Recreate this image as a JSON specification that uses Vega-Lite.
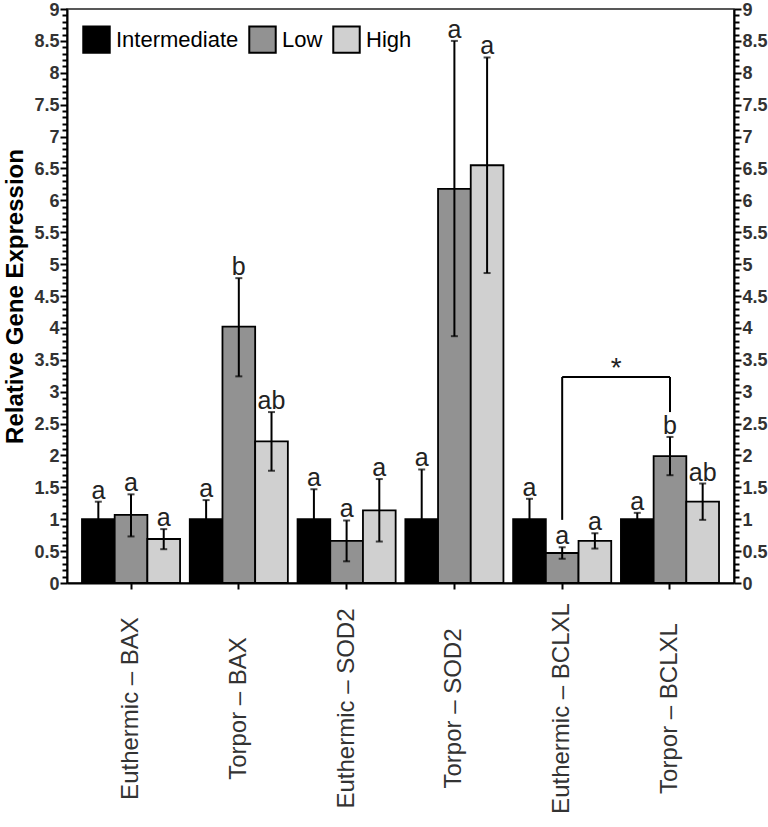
{
  "$schema": "https://vega.github.io/schema/vega-lite/v6.json",
  "width": 667,
  "height": 574,
  "autosize": "none",
  "padding": {"left": 67, "top": 9, "right": 34, "bottom": 244},
  "background": "white",
  "config": {
    "font": "Liberation Sans",
    "view": {"stroke": "#222", "strokeWidth": 1.5},
    "axis": {"domainColor": "black", "domainWidth": 2, "tickColor": "black", "tickWidth": 2, "grid": false}
  },
  "datasets": {
    "bars": [
      {"group": "Euthermic – BAX", "series": "Intermediate", "value": 1.0, "lo": 0.725, "hi": 1.275, "letter": "a"},
      {"group": "Euthermic – BAX", "series": "Low", "value": 1.067, "lo": 0.73, "hi": 1.39, "letter": "a"},
      {"group": "Euthermic – BAX", "series": "High", "value": 0.69, "lo": 0.53, "hi": 0.845, "letter": "a"},
      {"group": "Torpor – BAX", "series": "Intermediate", "value": 1.0, "lo": 0.7, "hi": 1.3, "letter": "a"},
      {"group": "Torpor – BAX", "series": "Low", "value": 4.02, "lo": 3.24, "hi": 4.78, "letter": "b"},
      {"group": "Torpor – BAX", "series": "High", "value": 2.22, "lo": 1.76, "hi": 2.68, "letter": "ab"},
      {"group": "Euthermic – SOD2", "series": "Intermediate", "value": 1.0, "lo": 0.53, "hi": 1.47, "letter": "a"},
      {"group": "Euthermic – SOD2", "series": "Low", "value": 0.66, "lo": 0.34, "hi": 0.98, "letter": "a"},
      {"group": "Euthermic – SOD2", "series": "High", "value": 1.14, "lo": 0.65, "hi": 1.63, "letter": "a"},
      {"group": "Torpor – SOD2", "series": "Intermediate", "value": 1.0, "lo": 0.22, "hi": 1.78, "letter": "a"},
      {"group": "Torpor – SOD2", "series": "Low", "value": 6.18, "lo": 3.87, "hi": 8.5, "letter": "a"},
      {"group": "Torpor – SOD2", "series": "High", "value": 6.55, "lo": 4.86, "hi": 8.24, "letter": "a"},
      {"group": "Euthermic – BCLXL", "series": "Intermediate", "value": 1.0, "lo": 0.68, "hi": 1.32, "letter": "a"},
      {"group": "Euthermic – BCLXL", "series": "Low", "value": 0.47, "lo": 0.38, "hi": 0.56, "letter": "a"},
      {"group": "Euthermic – BCLXL", "series": "High", "value": 0.66, "lo": 0.54, "hi": 0.78, "letter": "a"},
      {"group": "Torpor – BCLXL", "series": "Intermediate", "value": 1.0, "lo": 0.9, "hi": 1.1, "letter": "a"},
      {"group": "Torpor – BCLXL", "series": "Low", "value": 1.99, "lo": 1.69, "hi": 2.29, "letter": "b"},
      {"group": "Torpor – BCLXL", "series": "High", "value": 1.275, "lo": 0.99, "hi": 1.56, "letter": "ab"}
    ],
    "bracket": [
      {"group": "Euthermic – BCLXL", "group2": "Torpor – BCLXL", "y": 3.23, "y2": 3.23},
      {"group": "Euthermic – BCLXL", "group2": "Euthermic – BCLXL", "y": 0.99, "y2": 3.23},
      {"group": "Torpor – BCLXL", "group2": "Torpor – BCLXL", "y": 2.68, "y2": 3.23}
    ],
    "star": [
      {"group": "Euthermic – BCLXL", "y": 3.23, "label": "*"}
    ]
  },
  "encoding": {
    "x": {
      "field": "group",
      "type": "nominal",
      "title": null,
      "scale": {
        "domain": ["Euthermic – BAX", "Torpor – BAX", "Euthermic – SOD2", "Torpor – SOD2", "Euthermic – BCLXL", "Torpor – BCLXL"],
        "paddingInner": 0.09,
        "paddingOuter": 0.139
      },
      "axis": {
        "labelAngle": -90,
        "labelAlign": "center",
        "labelBaseline": "middle",
        "labelPadding": 119,
        "labelFontSize": 24,
        "labelColor": "#333",
        "labelLimit": 400,
        "tickSize": 6
      }
    }
  },
  "layer": [
    {
      "data": {"name": "bars"},
      "mark": {"type": "bar", "stroke": "black", "strokeWidth": 1.8},
      "encoding": {
        "xOffset": {"field": "series", "type": "nominal", "scale": {"domain": ["Intermediate", "Low", "High"], "paddingInner": 0}},
        "y": {
          "field": "value",
          "type": "quantitative",
          "scale": {"domain": [0, 9], "nice": false},
          "axis": {
            "orient": "left",
            "title": "Relative Gene Expression",
            "titleFontSize": 24,
            "titleFontWeight": "bold",
            "titleColor": "black",
            "titlePadding": 6,
            "values": [0, 0.1, 0.2, 0.3, 0.4, 0.5, 0.6, 0.7, 0.8, 0.9, 1, 1.1, 1.2, 1.3, 1.4, 1.5, 1.6, 1.7, 1.8, 1.9, 2, 2.1, 2.2, 2.3, 2.4, 2.5, 2.6, 2.7, 2.8, 2.9, 3, 3.1, 3.2, 3.3, 3.4, 3.5, 3.6, 3.7, 3.8, 3.9, 4, 4.1, 4.2, 4.3, 4.4, 4.5, 4.6, 4.7, 4.8, 4.9, 5, 5.1, 5.2, 5.3, 5.4, 5.5, 5.6, 5.7, 5.8, 5.9, 6, 6.1, 6.2, 6.3, 6.4, 6.5, 6.6, 6.7, 6.8, 6.9, 7, 7.1, 7.2, 7.3, 7.4, 7.5, 7.6, 7.7, 7.8, 7.9, 8, 8.1, 8.2, 8.3, 8.4, 8.5, 8.6, 8.7, 8.8, 8.9, 9],
            "labelExpr": "datum.value * 2 == round(datum.value * 2) ? format(datum.value, '~g') : ''",
            "tickSize": {"condition": {"test": "datum.value * 2 == round(datum.value * 2)", "value": 7}, "value": 5},
            "labelFontSize": 18,
            "labelFontWeight": "bold",
            "labelColor": "#333",
            "labelPadding": 1,
            "labelOffset": 1,
            "labelOverlap": false
          }
        },
        "color": {
          "field": "series",
          "type": "nominal",
          "scale": {"domain": ["Intermediate", "Low", "High"], "range": ["#000000", "#929292", "#d0d0d0"]},
          "legend": {
            "title": null,
            "orient": "none",
            "legendX": 15,
            "legendY": 16,
            "direction": "horizontal",
            "symbolType": "square",
            "symbolSize": 700,
            "symbolStrokeColor": "black",
            "symbolStrokeWidth": 2,
            "labelFontSize": 22,
            "labelColor": "black",
            "labelOffset": 5,
            "columnPadding": 6
          }
        }
      }
    },
    {
      "data": {"name": "bars"},
      "mark": {"type": "rule", "color": "black", "strokeWidth": 2},
      "encoding": {
        "xOffset": {"field": "series", "type": "nominal", "scale": {"domain": ["Intermediate", "Low", "High"], "paddingInner": 0}},
        "y": {
          "field": "lo",
          "type": "quantitative",
          "scale": {"domain": [0, 9], "nice": false},
          "axis": {
            "orient": "right",
            "title": null,
            "values": [0, 0.1, 0.2, 0.3, 0.4, 0.5, 0.6, 0.7, 0.8, 0.9, 1, 1.1, 1.2, 1.3, 1.4, 1.5, 1.6, 1.7, 1.8, 1.9, 2, 2.1, 2.2, 2.3, 2.4, 2.5, 2.6, 2.7, 2.8, 2.9, 3, 3.1, 3.2, 3.3, 3.4, 3.5, 3.6, 3.7, 3.8, 3.9, 4, 4.1, 4.2, 4.3, 4.4, 4.5, 4.6, 4.7, 4.8, 4.9, 5, 5.1, 5.2, 5.3, 5.4, 5.5, 5.6, 5.7, 5.8, 5.9, 6, 6.1, 6.2, 6.3, 6.4, 6.5, 6.6, 6.7, 6.8, 6.9, 7, 7.1, 7.2, 7.3, 7.4, 7.5, 7.6, 7.7, 7.8, 7.9, 8, 8.1, 8.2, 8.3, 8.4, 8.5, 8.6, 8.7, 8.8, 8.9, 9],
            "labelExpr": "datum.value * 2 == round(datum.value * 2) ? format(datum.value, '~g') : ''",
            "tickSize": {"condition": {"test": "datum.value * 2 == round(datum.value * 2)", "value": 7}, "value": 5},
            "labelFontSize": 18,
            "labelFontWeight": "bold",
            "labelColor": "#333",
            "labelPadding": 1,
            "labelOffset": 1,
            "labelOverlap": false
          }
        },
        "y2": {"field": "hi"}
      }
    },
    {
      "data": {"name": "bars"},
      "mark": {"type": "tick", "color": "black", "size": 7, "thickness": 2},
      "encoding": {
        "xOffset": {"field": "series", "type": "nominal", "scale": {"domain": ["Intermediate", "Low", "High"], "paddingInner": 0}},
        "y": {"field": "hi", "type": "quantitative", "scale": {"domain": [0, 9], "nice": false}, "axis": null}
      }
    },
    {
      "data": {"name": "bars"},
      "mark": {"type": "tick", "color": "black", "size": 7, "thickness": 2},
      "encoding": {
        "xOffset": {"field": "series", "type": "nominal", "scale": {"domain": ["Intermediate", "Low", "High"], "paddingInner": 0}},
        "y": {"field": "lo", "type": "quantitative", "scale": {"domain": [0, 9], "nice": false}, "axis": null}
      }
    },
    {
      "data": {"name": "bars"},
      "mark": {"type": "text", "fontSize": 25, "color": "#222", "baseline": "alphabetic", "dy": -3},
      "encoding": {
        "xOffset": {"field": "series", "type": "nominal", "scale": {"domain": ["Intermediate", "Low", "High"], "paddingInner": 0}},
        "y": {"field": "hi", "type": "quantitative", "scale": {"domain": [0, 9], "nice": false}, "axis": null},
        "text": {"field": "letter"}
      }
    },
    {
      "data": {"name": "bracket"},
      "mark": {"type": "rule", "color": "black", "strokeWidth": 2},
      "encoding": {
        "x": {"field": "group", "type": "nominal", "bandPosition": 0.5},
        "x2": {"field": "group2", "bandPosition": 0.5},
        "y": {"field": "y", "type": "quantitative", "scale": {"domain": [0, 9], "nice": false}, "axis": null},
        "y2": {"field": "y2"}
      }
    },
    {
      "data": {"name": "star"},
      "mark": {"type": "text", "fontSize": 28, "color": "#222", "baseline": "alphabetic"},
      "encoding": {
        "x": {"field": "group", "type": "nominal", "bandPosition": 1.05},
        "y": {"field": "y", "type": "quantitative", "scale": {"domain": [0, 9], "nice": false}, "axis": null},
        "text": {"field": "label"}
      }
    }
  ],
  "resolve": {"axis": {"y": "independent"}}
}
